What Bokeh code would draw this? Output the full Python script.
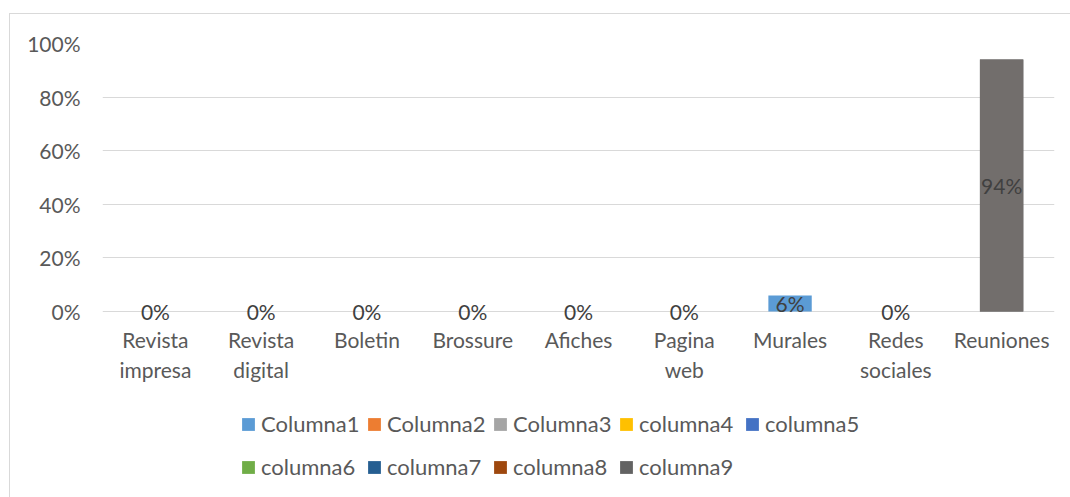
from bokeh.plotting import figure
from bokeh.models import (Range1d, FactorRange, NumeralTickFormatter, Legend,
                          LegendItem)
from bokeh.core.properties import value
from bokeh.embed import file_html
from bokeh.resources import INLINE

categories = ["Revista impresa", "Revista digital", "Boletin", "Brossure", "Afiches",
              "Pagina web", "Murales", "Redes sociales", "Reuniones"]
label_line1 = ["Revista", "Revista", "Boletin", "Brossure", "Afiches",
               "Pagina", "Murales", "Redes", "Reuniones"]
label_line2 = ["impresa", "digital", "", "", "", "web", "", "sociales", ""]
series_names = ["Columna1", "Columna2", "Columna3", "columna4", "columna5",
                "columna6", "columna7", "columna8", "columna9"]
series_colors = ["#5B9BD5", "#ED7D31", "#A5A5A5", "#FFC000", "#4472C4",
                 "#70AD47", "#255E91", "#9E480E", "#636363"]
bar_colors = ["#5B9BD5", "#ED7D31", "#A5A5A5", "#FFC000", "#4472C4",
              "#70AD47", "#255E91", "#9E480E", "#726E6C"]
y_ticks = [0, 0.2, 0.4, 0.6, 0.8, 1.0]

columna1 = [0, 0, 0, 0, 0, 0, 0.06, 0, 0]
columna2 = [0, 0, 0, 0, 0, 0, 0, 0, 0]
columna3 = [0, 0, 0, 0, 0, 0, 0, 0, 0]
columna4 = [0, 0, 0, 0, 0, 0, 0, 0, 0]
columna5 = [0, 0, 0, 0, 0, 0, 0, 0, 0]
columna6 = [0, 0, 0, 0, 0, 0, 0, 0, 0]
columna7 = [0, 0, 0, 0, 0, 0, 0, 0, 0]
columna8 = [0, 0, 0, 0, 0, 0, 0, 0, 0]
columna9 = [0, 0, 0, 0, 0, 0, 0, 0, 0.94]
all_series = [columna1, columna2, columna3, columna4, columna5,
              columna6, columna7, columna8, columna9]

FONT = "Lato"
TXT = "#595959"

# The plotting area (0..100%) is 268 px tall; the frame is extended downwards
# so that the category labels and the legend live inside it (no clipping).
PLOT_PX = 268
FRAME_PX = 454
y_start = -(FRAME_PX - PLOT_PX) / PLOT_PX

p = figure(x_range=FactorRange(*categories), y_range=Range1d(y_start, 1.0),
           frame_width=952, frame_height=FRAME_PX,
           output_backend="svg", toolbar_location=None,
           min_border_left=92, min_border_right=16, min_border_top=29,
           min_border_bottom=0)
p.margin = (13, 0, 0, 9)
p.styles = {"border-left": "1px solid #d9d9d9", "border-top": "1px solid #d9d9d9"}
p.outline_line_color = None
p.background_fill_color = "white"
p.border_fill_color = "white"

items = []
for name, col, bcol, vals in zip(series_names, series_colors, bar_colors, all_series):
    r = p.vbar(x=categories, top=vals, width=0.41, fill_color=col, line_color=None)
    if bcol != col:
        p.vbar(x=categories, top=vals, width=0.41, fill_color=bcol, line_color=None)
    items.append(LegendItem(label=name, renderers=[r]))

# data labels, centred in each bar
totals = [sum(s[i] for s in all_series) for i in range(len(categories))]
p.text(x=categories, y=[t / 2 for t in totals],
       text=[f"{round(t * 100)}%" for t in totals],
       text_align="center", text_baseline="middle",
       text_font=value(FONT), text_font_size="21px", text_color="#404040")

# category labels (two lines) under the 0% line
zeros = [0] * len(categories)
p.text(x=categories, y=zeros, text=label_line1, y_offset=28,
       text_align="center", text_baseline="middle",
       text_font=value(FONT), text_font_size="21px", text_color=TXT)
p.text(x=categories, y=zeros, text=label_line2, y_offset=58,
       text_align="center", text_baseline="middle",
       text_font=value(FONT), text_font_size="21px", text_color=TXT)

# y axis
p.yaxis.ticker = y_ticks
p.yaxis.formatter = NumeralTickFormatter(format="0%")
p.yaxis.axis_line_color = None
p.yaxis.major_tick_line_color = None
p.yaxis.minor_tick_line_color = None
p.yaxis.major_tick_out = 0
p.yaxis.major_label_standoff = 22
p.yaxis.major_label_text_font = FONT
p.yaxis.major_label_text_font_size = "21px"
p.yaxis.major_label_text_color = TXT

p.xaxis.visible = False
p.xgrid.grid_line_color = None
p.ygrid.ticker = y_ticks
p.ygrid.grid_line_color = "#d9d9d9"
p.ygrid.grid_line_width = 1

legend_style = dict(orientation="horizontal", glyph_width=16, glyph_height=16,
                    label_standoff=5, spacing=5, label_width=100,
                    label_text_font=FONT, label_text_font_size="22px",
                    label_text_color=TXT, border_line_color=None,
                    background_fill_alpha=0, padding=0, margin=0)
legend1 = Legend(items=items[:5], location=(138, 60), **legend_style)
legend2 = Legend(items=items[5:], location=(138, 17), **legend_style)
p.add_layout(legend1, "center")
p.add_layout(legend2, "center")

open("out.html", "w").write(file_html(p, INLINE))
